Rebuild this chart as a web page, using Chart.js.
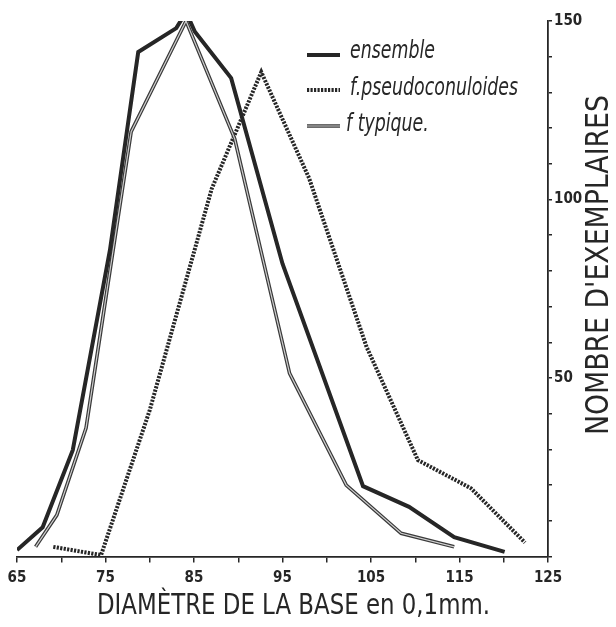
<!DOCTYPE html>
<html>
<head>
<meta charset="utf-8">
<script src="https://cdn.jsdelivr.net/npm/chart.js@4.4.1/dist/chart.umd.min.js"></script>
<style>
  html, body { margin: 0; padding: 0; background: #fff; }
  #wrap { width: 616px; height: 627px; }
</style>
</head>
<body>
<div id="wrap"><canvas id="c" width="616" height="627"></canvas></div>
<script>
// values (diameter in 0.1 mm, number of specimens)
const ensembleX = [65.0, 67.9, 71.3, 75.5, 78.7, 83.0, 84.1, 85.1, 89.2, 95.0, 104.1, 109.3, 114.4, 120.1];
const ensembleY = [1.8, 8.2, 29.8, 85.8, 141.3, 148, 152.5, 147, 134, 82, 19.7, 13.9, 5.4, 1.3];

const pseudoX = [69.1, 74.5, 80.0, 87.0, 92.6, 98.0, 104.5, 110.3, 116.3, 122.4];
const pseudoY = [2.7, 0.4, 41, 103, 135.7, 106, 58.7, 27, 19.1, 3.9];

const typiqueX = [67.1, 69.5, 72.8, 77.9, 84.1, 89.6, 95.8, 102.2, 108.4, 114.4];
const typiqueY = [2.7, 11.6, 36, 119, 150, 117, 51.3, 20, 6.5, 2.7];

const xTicks = [65, 75, 85, 95, 105, 115, 125];
const yTicks = [50, 100, 150];
const legendLabels = ['ensemble', 'f.pseudoconuloides', 'f typique.'];

const ink = '#262626';
const face = '"DejaVu Sans Condensed", "Liberation Sans Narrow", sans-serif';
const pts = (xs, ys) => xs.map((x, i) => ({x: x, y: ys[i]}));

// draw text squeezed horizontally by factor k (the original lettering is narrow)
function squeezed(ctx, text, x, y, k) {
  ctx.save();
  ctx.translate(x, y);
  ctx.scale(k, 1);
  ctx.fillText(text, 0, 0);
  ctx.restore();
}

const titles = {
  id: 'titles',
  afterDraw(chart) {
    const ctx = chart.ctx;
    ctx.save();
    ctx.fillStyle = ink;
    ctx.textBaseline = 'middle';
    ctx.textAlign = 'center';
    ctx.font = '29px ' + face;
    let t = 'DIAMÈTRE DE LA BASE en 0,1mm.';
    squeezed(ctx, t, 293.5, 606, 393 / ctx.measureText(t).width);
    ctx.translate(600, 265);
    ctx.rotate(-Math.PI / 2);
    ctx.font = '32px ' + face;
    t = "NOMBRE D'EXEMPLAIRES";
    squeezed(ctx, t, 0, 0, 340 / ctx.measureText(t).width);
    ctx.restore();
  }
};

const legendBox = {
  id: 'legendBox',
  afterDraw(chart) {
    const ctx = chart.ctx;
    const rows = [52, 89, 125];
    ctx.save();
    ctx.font = 'italic 24px ' + face;
    ctx.textBaseline = 'middle';
    ctx.fillStyle = ink;
    const line = (y, w, col, dash) => {
      ctx.beginPath();
      ctx.setLineDash(dash || []);
      ctx.lineWidth = w;
      ctx.strokeStyle = col;
      ctx.moveTo(307, y); ctx.lineTo(340, y);
      ctx.stroke();
    };
    line(rows[0] + 3, 4, ink);
    line(rows[1] + 1, 4, ink, [2.2, 1.3]);
    line(rows[2] + 1, 3.6, '#3a3a3a');
    line(rows[2] + 1, 1.2, '#cfcfcf');
    ctx.setLineDash([]);
    const k = 168 / ctx.measureText(legendLabels[1]).width;
    legendLabels.forEach((t, i) => squeezed(ctx, t, i === 2 ? 346 : 350, rows[i], k));
    ctx.restore();
  }
};

new Chart(document.getElementById('c'), {
  type: 'scatter',
  data: {
    datasets: [
      { label: legendLabels[0], data: pts(ensembleX, ensembleY), showLine: true, borderColor: ink, borderWidth: 4, pointRadius: 0, order: 1 },
      { label: legendLabels[1], data: pts(pseudoX, pseudoY), showLine: true, borderColor: ink, borderWidth: 4, borderDash: [2.2, 1.3], pointRadius: 0, order: 3 },
      { label: legendLabels[2], data: pts(typiqueX, typiqueY), showLine: true, borderColor: '#3a3a3a', borderWidth: 3.6, pointRadius: 0, order: 2 },
      { label: legendLabels[2] + ' (inner)', data: pts(typiqueX, typiqueY), showLine: true, borderColor: '#cfcfcf', borderWidth: 1.2, pointRadius: 0, order: 0 }
    ]
  },
  options: {
    responsive: false,
    animation: false,
    layout: { padding: { left: 17, top: 21, right: 0, bottom: 0 } },
    plugins: { legend: { display: false }, tooltip: { enabled: false } },
    scales: {
      x: {
        type: 'linear', position: 'bottom', min: 65, max: 125,
        afterFit: s => { s.height = 70.5; },
        ticks: {
          stepSize: 5, autoSkip: false, maxRotation: 0, padding: 7, color: ink,
          font: { family: face, size: 15, weight: 'bold' },
          callback: v => xTicks.includes(v) ? String(v) : ''
        },
        grid: { drawOnChartArea: false, tickLength: 6, color: ink, lineWidth: 1.5 },
        border: { color: ink, width: 1.8 }
      },
      y: {
        type: 'linear', position: 'right', min: 0, max: 150,
        afterFit: s => { s.width = 68; },
        ticks: {
          stepSize: 10, autoSkip: false, padding: 2, color: ink,
          font: { family: face, size: 15, weight: 'bold' },
          callback: v => yTicks.includes(v) ? String(v) : ''
        },
        grid: { drawOnChartArea: false, tickLength: 4, color: ink, lineWidth: 1.5 },
        border: { color: ink, width: 1.8 }
      }
    }
  },
  plugins: [titles, legendBox]
});
</script>
</body>
</html>
